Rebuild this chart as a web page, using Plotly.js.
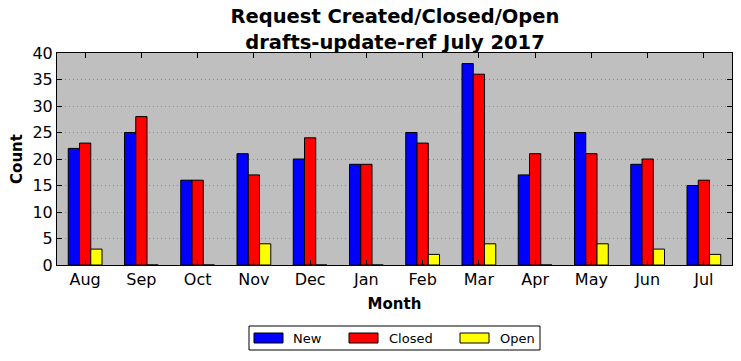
<!DOCTYPE html>
<html>
<head>
<meta charset="utf-8">
<script src="https://cdn.plot.ly/plotly-3.0.1.min.js"></script>
<style>html,body{margin:0;padding:0;background:#fff;}#chart{width:741px;height:361px;}</style>
</head>
<body>
<div id="chart"></div>
<script>
const months = ["Aug","Sep","Oct","Nov","Dec","Jan","Feb","Mar","Apr","May","Jun","Jul"];
const newVals = [22,25,16,21,20,19,25,38,17,25,19,15];
const closedVals = [23,28,16,17,24,19,23,36,21,21,20,16];
const openVals = [3,0,0,4,0,0,2,4,0,4,3,2];
const seriesNames = ["New","Closed","Open"];
const seriesColors = ["#0000ff","#ff0000","#ffff00"];

const font = "DejaVu Sans, sans-serif";
const M = {l:57, r:9, t:53, b:96};
const PW = 741 - M.l - M.r, PH = 361 - M.t - M.b;
const px = x => (x - M.l) / PW;
const py = y => (361 - M.b - y) / PH;

const data = [newVals, closedVals, openVals].map((y, i) => ({
  type:"bar", name:seriesNames[i], x:months, y:y, showlegend:false,
  marker:{color:seriesColors[i], line:{color:"#000", width:1}}
}));

// manual legend (matplotlib style)
const shapes = [{type:"rect", xref:"paper", yref:"paper", x0:px(249), x1:px(540), y0:py(326), y1:py(350), line:{color:"#000", width:1}, fillcolor:"#fff", layer:"above"}];
const annotations = [];
const swatchX = [254, 349, 460];
const textX = [291, 387, 498];
seriesNames.forEach((n, i) => {
  shapes.push({type:"rect", xref:"paper", yref:"paper", x0:px(swatchX[i]), x1:px(swatchX[i]+29), y0:py(333), y1:py(343), line:{color:"#000", width:1}, fillcolor:seriesColors[i], layer:"above"});
  annotations.push({xref:"paper", yref:"paper", x:px(textX[i]), y:py(338.5), xanchor:"left", yanchor:"middle", text:n, showarrow:false, font:{size:13, family:font, color:"#000"}});
});

const layout = {
  width:741, height:361,
  margin:M,
  paper_bgcolor:"#fff", plot_bgcolor:"#bfbfbf",
  barmode:"group", bargap:0.4, bargroupgap:0,
  font:{family:font, color:"#000"},
  title:{text:"<b>Request Created/Closed/Open<br>drafts-update-ref July 2017</b>", font:{size:19.5, family:font}, x:0.533, xanchor:"center", y:0.935, yanchor:"top"},
  xaxis:{title:{text:"<b>Month</b>", font:{size:15}, standoff:10}, tickfont:{size:16}, automargin:false, showline:true, linecolor:"#000", linewidth:1, mirror:"ticks", ticks:"inside", ticklen:5, tickcolor:"#000", range:[-0.5,11.5], showgrid:false, zeroline:false},
  yaxis:{title:{text:"<b>Count</b>", font:{size:15}, standoff:6}, tickfont:{size:16}, automargin:false, range:[0,40], dtick:5, showline:true, linecolor:"#000", linewidth:1, mirror:"ticks", ticks:"inside", ticklen:5, tickcolor:"#000", showgrid:true, gridcolor:"#8c8c8c", griddash:"1px,3px", gridwidth:1, zeroline:false},
  shapes:shapes, annotations:annotations,
  showlegend:false
};
Plotly.newPlot("chart", data, layout, {displayModeBar:false, staticPlot:true});
</script>
</body>
</html>
